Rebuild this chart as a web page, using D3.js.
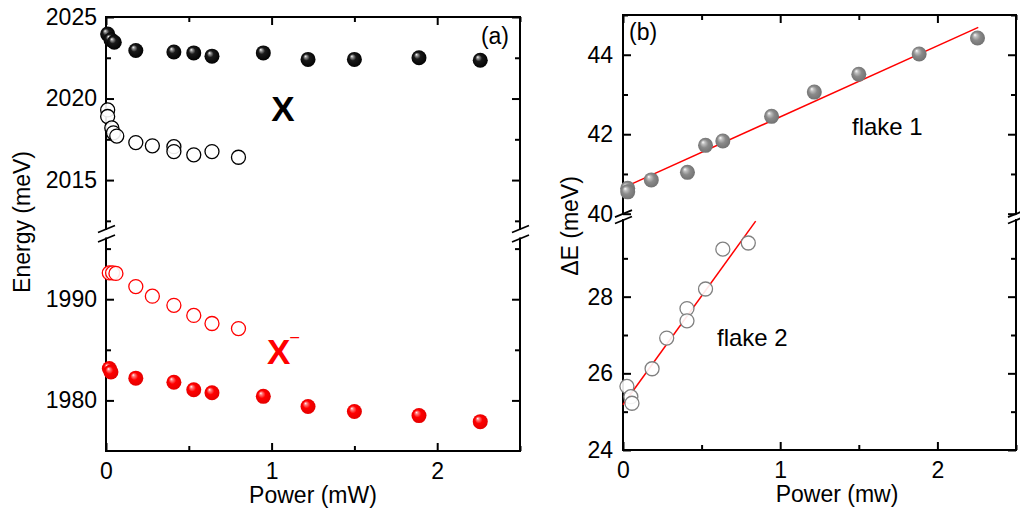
<!DOCTYPE html>
<html>
<head>
<meta charset="utf-8">
<script src="https://cdn.jsdelivr.net/npm/d3@7"></script>
<style>
    body { margin: 0; background: #fff; }
    svg { display: block; font-family: "Liberation Sans", Arial, sans-serif; }
    .tick text { font-size: 23px; fill: #000; }
</style>
</head>
<body>
<svg id="chart" width="1020" height="512"></svg>
<script>
// panel (a): exciton (X) and trion (X-) energies vs power
const xFlake1A = [0.01, 0.03, 0.05, 0.18, 0.41, 0.53, 0.64, 0.95, 1.22, 1.50, 1.89, 2.26];
const eX1 = [2023.95, 2023.6, 2023.45, 2022.95, 2022.85, 2022.8, 2022.6, 2022.8, 2022.4, 2022.4, 2022.5, 2022.35];
const xTrion1 = [0.02, 0.03, 0.18, 0.41, 0.53, 0.64, 0.95, 1.22, 1.50, 1.89, 2.26];
const eXm1 = [1983.15, 1982.8, 1982.2, 1981.8, 1981.05, 1980.75, 1980.4, 1979.4, 1978.9, 1978.5, 1977.9];
const xFlake2A = [0.01, 0.01, 0.035, 0.045, 0.065, 0.18, 0.28, 0.41, 0.41, 0.53, 0.64, 0.80];
const eX2 = [2019.3, 2018.9, 2018.2, 2017.9, 2017.7, 2017.3, 2017.1, 2017.05, 2016.75, 2016.55, 2016.75, 2016.4];
const xTrion2 = [0.02, 0.04, 0.06, 0.18, 0.28, 0.41, 0.53, 0.64, 0.80];
const eXm2 = [1992.6, 1992.6, 1992.55, 1991.25, 1990.3, 1989.4, 1988.4, 1987.6, 1987.1];

// panel (b): splitting dE vs power
const xB1 = [0.03, 0.03, 0.18, 0.41, 0.525, 0.635, 0.945, 1.217, 1.50, 1.884, 2.255];
const dE1 = [40.64, 40.55, 40.85, 41.04, 41.72, 41.83, 42.45, 43.06, 43.51, 44.02, 44.42];
const xB2 = [0.025, 0.05, 0.057, 0.185, 0.278, 0.407, 0.407, 0.525, 0.635, 0.797];
const dE2 = [25.66, 25.39, 25.22, 26.12, 26.92, 27.69, 27.37, 28.2, 29.24, 29.4];
const fit1X = [0, 2.26];
const fit1Y = [40.65, 44.69];
const fit2X = [0, 0.844];
const fit2Y = [25.18, 29.97];

// ticks
const xMajor = [0, 1, 2];
const xMinor = [0.5, 1.5, 2.5];
const aUpMajor = [2015, 2020, 2025];
const aUpMinor = [2012.5, 2017.5, 2022.5];
const aLoMajor = [1980, 1990];
const aLoMinor = [1985, 1995];
const bUpMajor = [40, 42, 44];
const bUpMinor = [41, 43, 45];
const bLoMajor = [24, 26, 28];
const bLoMinor = [25, 27, 29];

const svg = d3.select('#chart');
const defs = svg.append('defs');

function sphere(id, stops) {
    const g = defs.append('radialGradient').attr('id', id)
        .attr('cx', '50%').attr('cy', '50%').attr('r', '55%')
        .attr('fx', '32%').attr('fy', '28%');
    stops.forEach(([o, c]) => g.append('stop').attr('offset', o).attr('stop-color', c));
}
sphere('ballBlack', [['0%', '#ffffff'], ['14%', '#9a9a9a'], ['40%', '#1a1a1a'], ['100%', '#000000']]);
sphere('ballRed', [['0%', '#ffffff'], ['16%', '#ff8080'], ['45%', '#ff0000'], ['100%', '#e00000']]);
sphere('ballGray', [['0%', '#ffffff'], ['20%', '#c0c0c0'], ['50%', '#8a8a8a'], ['100%', '#6e6e6e']]);

function panel(cfg) {
    const { left, right, top, bottom, gapTop, gapBot, xDom, upDom, loDom } = cfg;
    const x = d3.scaleLinear().domain(xDom).range([left, right]);
    const yUp = d3.scaleLinear().domain(upDom).range([gapTop, top]);
    const yLo = d3.scaleLinear().domain(loDom).range([bottom, gapBot]);
    const g = svg.append('g');

    const axis = (gen, scale, vals, size, pad, labels) => gen(scale)
        .tickValues(vals).tickSize(size).tickPadding(pad)
        .tickFormat(labels ? d3.format('d') : '');

    const addAxis = (gen, scale, tx, ty, major, minor, labels, pad) => {
        const a = g.append('g').attr('transform', `translate(${tx},${ty})`);
        a.call(axis(gen, scale, major, -8, pad, labels));
        a.call((s) => s.select('.domain').remove());
        const m = g.append('g').attr('transform', `translate(${tx},${ty})`);
        m.call(axis(gen, scale, minor, -5, pad, false));
        m.call((s) => s.select('.domain').remove());
        g.selectAll('.tick line').attr('stroke', '#000').attr('stroke-width', 2);
    };

    addAxis(d3.axisBottom, x, 0, bottom, xMajor, xMinor, true, 12);
    addAxis(d3.axisTop, x, 0, top, xMajor, xMinor, false, 12);
    addAxis(d3.axisLeft, yUp, left, 0, cfg.upMajor, cfg.upMinor, true, cfg.yPad);
    addAxis(d3.axisLeft, yLo, left, 0, cfg.loMajor, cfg.loMinor, true, cfg.yPad);
    addAxis(d3.axisRight, yUp, right, 0, cfg.upMajor, cfg.upMinor, false, 8);
    addAxis(d3.axisRight, yLo, right, 0, cfg.loMajor, cfg.loMinor, false, 8);

    // frame with gaps for the axis break
    const frame = [
        [left, top, right, top], [left, bottom, right, bottom],
        [left, top, left, gapTop], [left, gapBot, left, bottom],
        [right, top, right, gapTop], [right, gapBot, right, bottom],
    ];
    g.selectAll('line.frame').data(frame).enter().append('line')
        .attr('class', 'frame')
        .attr('x1', (d) => d[0]).attr('y1', (d) => d[1])
        .attr('x2', (d) => d[2]).attr('y2', (d) => d[3])
        .attr('stroke', '#000').attr('stroke-width', 2)
        .attr('stroke-linecap', 'square');

    const slashes = [];
    [left, right].forEach((ax) => {
        [gapTop, gapBot].forEach((gy) => slashes.push([ax - 8, gy + 3.5, ax + 9, gy - 3.5]));
    });
    g.selectAll('line.brk').data(slashes).enter().append('line')
        .attr('class', 'brk')
        .attr('x1', (d) => d[0]).attr('y1', (d) => d[1])
        .attr('x2', (d) => d[2]).attr('y2', (d) => d[3])
        .attr('stroke', '#000').attr('stroke-width', 1.8);

    return { g, x, yUp, yLo };
}

function balls(g, xs, ys, x, y, fill, r) {
    g.append('g').selectAll('circle')
        .data(xs.map((v, i) => [v, ys[i]]))
        .enter().append('circle')
        .attr('cx', (d) => x(d[0])).attr('cy', (d) => y(d[1]))
        .attr('r', r).attr('fill', fill);
}

function rings(g, xs, ys, x, y, stroke, r) {
    g.append('g').selectAll('circle')
        .data(xs.map((v, i) => [v, ys[i]]))
        .enter().append('circle')
        .attr('cx', (d) => x(d[0])).attr('cy', (d) => y(d[1]))
        .attr('r', r).attr('fill', '#fff').attr('fill-opacity', 0.9)
        .attr('stroke', stroke).attr('stroke-width', 1.3);
}

// ---- panel (a)
const pa = panel({
    left: 106, right: 520, top: 17, bottom: 451, gapTop: 229, gapBot: 238.5,
    xDom: [0, 2.5], upDom: [2012, 2025], loDom: [1975, 1996],
    upMajor: aUpMajor, upMinor: aUpMinor, loMajor: aLoMajor, loMinor: aLoMinor, yPad: 9,
});
rings(pa.g, xFlake2A, eX2, pa.x, pa.yUp, '#000', 7);
balls(pa.g, xFlake1A, eX1, pa.x, pa.yUp, 'url(#ballBlack)', 7.5);
rings(pa.g, xTrion2, eXm2, pa.x, pa.yLo, '#ff0000', 7);
balls(pa.g, xTrion1, eXm1, pa.x, pa.yLo, 'url(#ballRed)', 7.5);

pa.g.append('text').attr('x', 509).attr('y', 44).attr('text-anchor', 'end')
    .attr('font-size', 23).text('(a)');
pa.g.append('text').attr('x', 283).attr('y', 121).attr('text-anchor', 'middle')
    .attr('font-size', 35).attr('font-weight', 'bold').text('X');
const xm = pa.g.append('text').attr('x', 267).attr('y', 364)
    .attr('font-size', 35).attr('font-weight', 'bold').attr('fill', '#ff0000');
xm.append('tspan').text('X');
xm.append('tspan').attr('font-size', 16).attr('font-weight', 'normal').attr('dy', -22).text('\u2013');
pa.g.append('text').attr('x', 313).attr('y', 503).attr('text-anchor', 'middle')
    .attr('font-size', 23).text('Power (mW)');
pa.g.append('text').attr('transform', 'translate(30,222) rotate(-90)')
    .attr('text-anchor', 'middle').attr('font-size', 23).text('Energy (meV)');

// ---- panel (b)
const pb = panel({
    left: 623, right: 1016, top: 15, bottom: 450, gapTop: 213.7, gapBot: 220,
    xDom: [0, 2.5], upDom: [40, 45], loDom: [24, 30],
    upMajor: bUpMajor, upMinor: bUpMinor, loMajor: bLoMajor, loMinor: bLoMinor, yPad: 10,
});
const line = (ys) => d3.line().x((d) => pb.x(d[0])).y((d) => ys(d[1]));
pb.g.append('path').datum(fit1X.map((v, i) => [v, fit1Y[i]]))
    .attr('d', line(pb.yUp)).attr('fill', 'none').attr('stroke', '#ff0000').attr('stroke-width', 1.5);
pb.g.append('path').datum(fit2X.map((v, i) => [v, fit2Y[i]]))
    .attr('d', line(pb.yLo)).attr('fill', 'none').attr('stroke', '#ff0000').attr('stroke-width', 1.5);
balls(pb.g, xB1, dE1, pb.x, pb.yUp, 'url(#ballGray)', 7.5);
rings(pb.g, xB2, dE2, pb.x, pb.yLo, '#808080', 7);

pb.g.append('text').attr('x', 629).attr('y', 40).attr('font-size', 23).text('(b)');
pb.g.append('text').attr('x', 852).attr('y', 135).attr('font-size', 24).text('flake 1');
pb.g.append('text').attr('x', 717).attr('y', 346).attr('font-size', 24).text('flake 2');
pb.g.append('text').attr('x', 837).attr('y', 502).attr('text-anchor', 'middle')
    .attr('font-size', 23).text('Power (mw)');
pb.g.append('text').attr('transform', 'translate(578,226) rotate(-90)')
    .attr('text-anchor', 'middle').attr('font-size', 23).text('\u0394E (meV)');
</script>
</body>
</html>
